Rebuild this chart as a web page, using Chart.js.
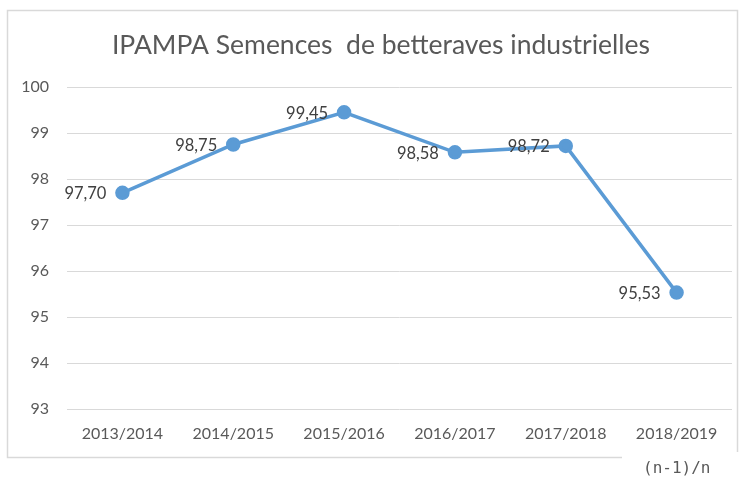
<!DOCTYPE html>
<html>
<head>
<meta charset="utf-8">
<script src="https://cdn.jsdelivr.net/npm/chart.js@4"></script>
<style>
  html, body { margin: 0; padding: 0; background: #fff; }
  #wrap { width: 747px; height: 478px; }
</style>
</head>
<body>
<div id="wrap"><canvas id="canvas" width="747" height="478"></canvas></div>
<script>
// Data
const seasons = ["2013/2014", "2014/2015", "2015/2016", "2016/2017", "2017/2018", "2018/2019"];
const ipampa = [97.70, 98.75, 99.45, 98.58, 98.72, 95.53];
const yMin = 93;
const yMax = 100;
const titleText = "IPAMPA Semences  de betteraves industrielles";
const footText = "(n-1)/n";

const grey = "#595959";
const blue = "#5b9bd5";
const font = "Lato";

// frame, title (centred on the frame) and the "(n-1)/n" note
const framePlugin = {
  id: "frame",
  beforeDraw(chart) {
    const c = chart.ctx;
    c.save();
    c.fillStyle = "#fff";
    c.fillRect(0, 0, chart.width, chart.height);
    c.strokeStyle = "#d9d9d9";
    c.lineWidth = 1.5;
    c.strokeRect(7.5, 10.5, 730, 447);
    c.fillStyle = grey;
    c.font = "26.5px " + font;
    c.textAlign = "center";
    c.textBaseline = "middle";
    c.fillText(titleText, 381, 45);
    c.restore();
  },
  afterDraw(chart) {
    const c = chart.ctx;
    c.save();
    c.fillStyle = "#fff";
    c.fillRect(622, 452, 125, 26);
    c.fillStyle = grey;
    c.font = "16px 'DejaVu Sans Mono'";
    c.textAlign = "left";
    c.textBaseline = "middle";
    c.fillText(footText, 643, 469);
    c.restore();
  }
};

// value labels to the left of each point, with a decimal comma
const labelPlugin = {
  id: "valueLabels",
  afterDatasetsDraw(chart) {
    const c = chart.ctx;
    const meta = chart.getDatasetMeta(0);
    c.save();
    c.fillStyle = "#404040";
    c.font = "16.5px " + font;
    c.textAlign = "right";
    c.textBaseline = "middle";
    meta.data.forEach((pt, i) => {
      const txt = ipampa[i].toFixed(2).replace(".", ",");
      c.fillText(txt, pt.x - 16, pt.y + 1);
    });
    c.restore();
  }
};

const ctx = document.getElementById("canvas").getContext("2d");
const chart = new Chart(ctx, {
  type: "line",
  data: {
    labels: seasons,
    datasets: [{
      data: ipampa,
      borderColor: blue,
      backgroundColor: blue,
      borderWidth: 3.5,
      pointRadius: 5.5,
      pointHoverRadius: 5.5,
      tension: 0
    }]
  },
  options: {
    responsive: false,
    animation: false,
    layout: { padding: { top: 87, left: 0, right: 15, bottom: 0 } },
    plugins: {
      legend: { display: false },
      tooltip: { enabled: false },
      title: { display: false }
    },
    scales: {
      x: {
        offset: true,
        grid: { display: false, drawTicks: false },
        border: { display: false },
        ticks: { color: grey, font: { family: font, size: 16 }, padding: 15, maxRotation: 0 },
        afterFit(scale) { scale.height = 69; }
      },
      y: {
        min: yMin,
        max: yMax,
        grid: { color: "#d9d9d9", lineWidth: 1, drawTicks: false },
        border: { display: false },
        ticks: { stepSize: 1, color: grey, font: { family: font, size: 16 }, padding: 18 },
        afterFit(scale) { scale.width = 67; }
      }
    }
  },
  plugins: [framePlugin, labelPlugin]
});
</script>
</body>
</html>
